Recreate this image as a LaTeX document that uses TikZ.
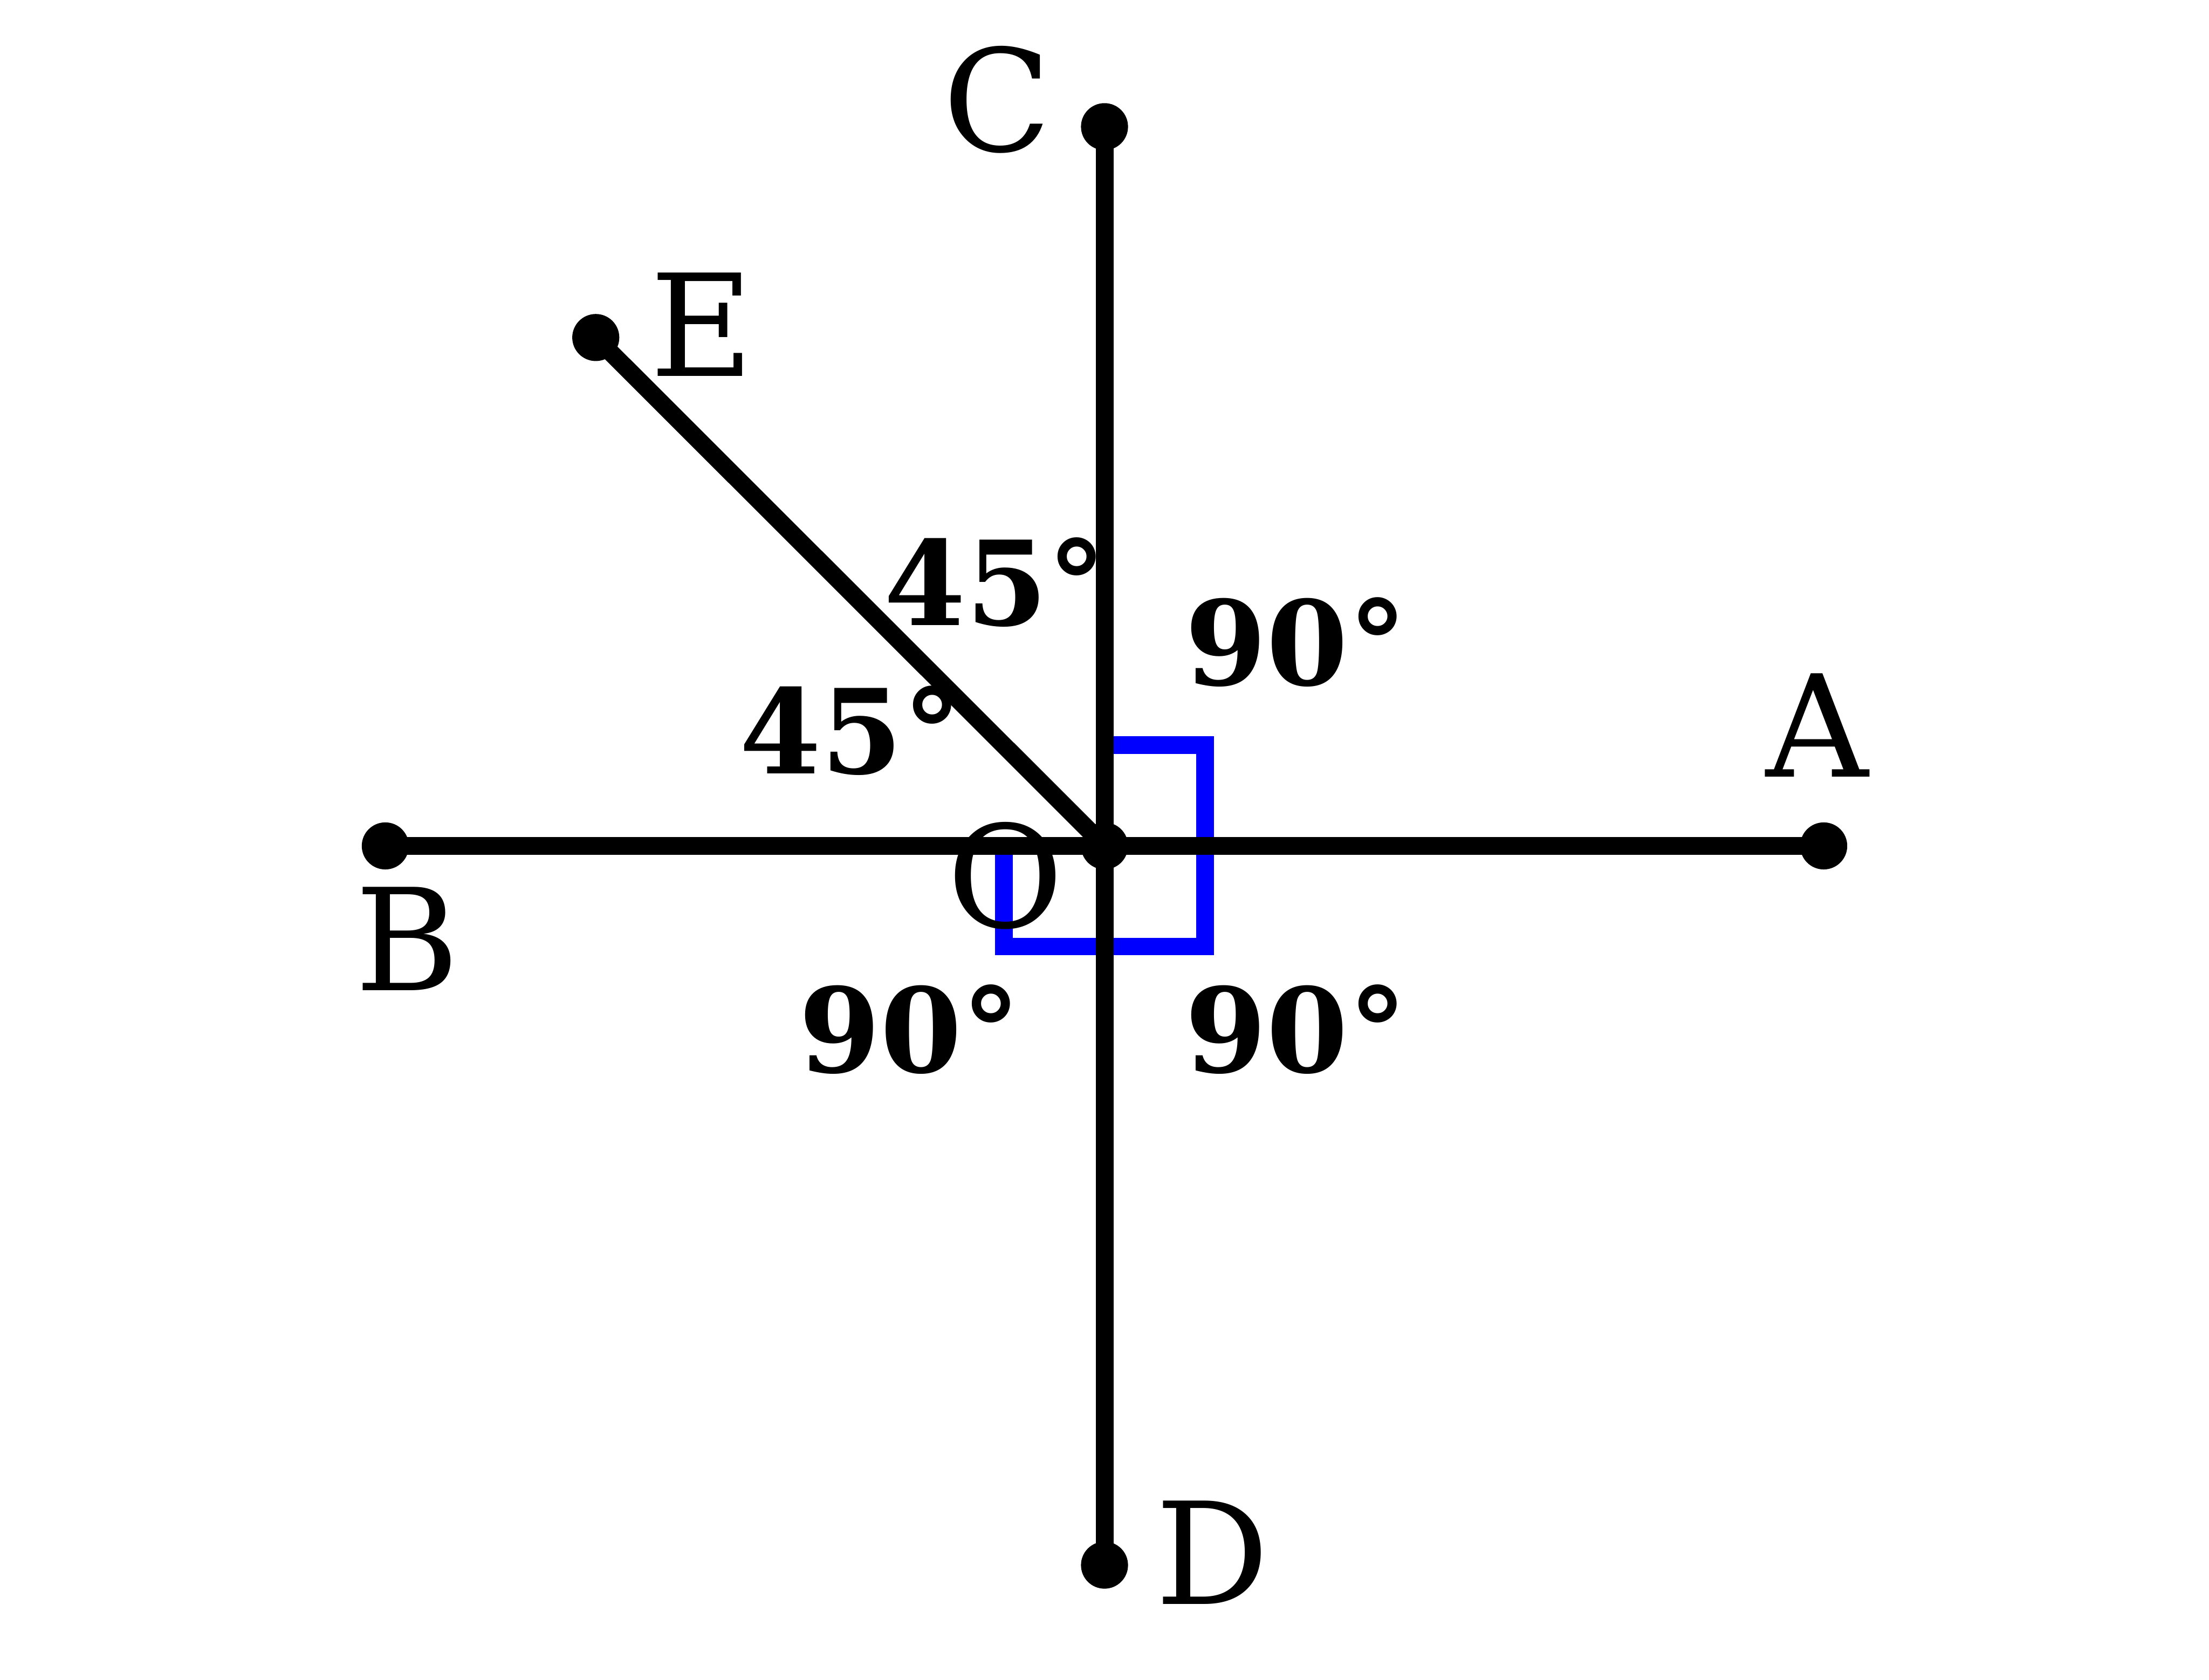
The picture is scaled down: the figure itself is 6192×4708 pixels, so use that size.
\documentclass[tikz,border=0pt]{standalone}
\usepackage{fontspec}
\setmainfont{DejaVu Serif}
\begin{document}
\begin{tikzpicture}[
    x=0.0025cm, y=-0.0025cm,
    seg/.style      = {draw=black, line width=3.55pt},
    rightmark/.style = {draw=blue, line width=3.55pt, miter limit=10},
    dot/.style      = {circle, fill=black, inner sep=0pt, minimum size=0.33cm},
    ptlabel/.style  = {inner sep=0pt, font=\fontsize{28.3}{34}\selectfont},
    anglabel/.style = {inner sep=0pt, font=\fontsize{23.4}{28}\selectfont\bfseries},
  ]
  \useasboundingbox (0,0) rectangle (6192,4708);

  % points
  \node[dot] (O) at (3096,2371) {};
  \node[dot] (A) at (5112,2371) {};
  \node[dot] (B) at (1080,2371) {};
  \node[dot] (C) at (3096,355)  {};
  \node[dot] (D) at (3096,4387) {};
  \node[dot] (E) at (1670,946)  {};

  % right angle marks
  \draw[rightmark] (O.center) ++(0,-282) -- ++(282,0) -- ++(0,564)
                   -- ++(-564,0) -- ++(0,-282);

  % lines through O
  \draw[seg] (B.center) -- (A.center);
  \draw[seg] (C.center) -- (D.center);
  \draw[seg] (O.center) -- (E.center);

  % letters
  \node[ptlabel] (labA) at (5093,2033) {A};
  \node[ptlabel] (labB) at (1141,2631) {B};
  \node[ptlabel] (labC) at (2796,279)  {C};
  \node[ptlabel] (labD) at (3398,4351) {D};
  \node[ptlabel] (labE) at (1968,910)  {E};
  \node[ptlabel] (labO) at (2819,2455) {O};

  % angles
  \node[anglabel] (angCE) at (2790,1632) {45°};
  \node[anglabel] (angEB) at (2384,2048) {45°};
  \node[anglabel] (angAC) at (3633,1800) {90°};
  \node[anglabel] (angBD) at (2550,2885) {90°};
  \node[anglabel] (angDA) at (3633,2885) {90°};
\end{tikzpicture}
\end{document}
